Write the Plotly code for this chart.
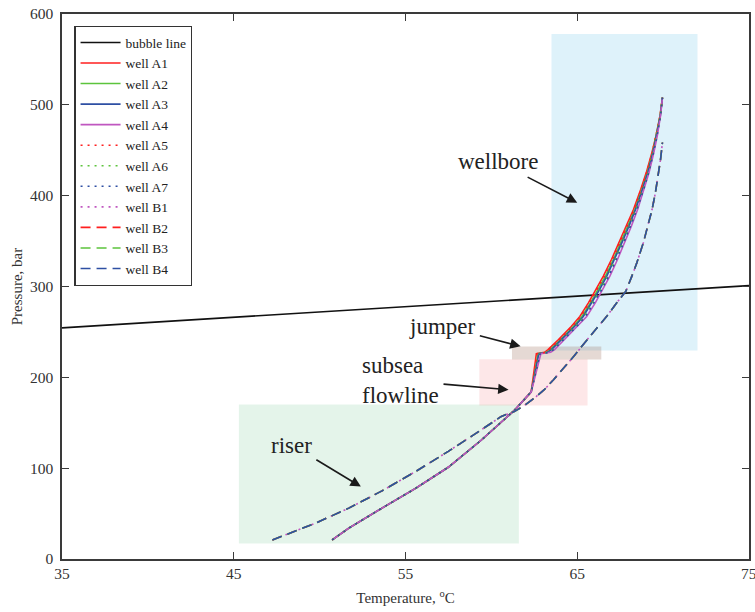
import plotly.graph_objects as go

# Bubble-point line (temperature °C, pressure bar)
bubble_T = [35, 75]
bubble_P = [254.5, 301]

# Wells A1-A7: riser -> subsea flowline -> jumper -> wellbore
P_A = [21, 34, 56, 77.5, 101, 131, 164, 184,
       226, 227.5, 230.5, 241.5, 256, 267, 282, 296.7, 311.4, 330, 350,
       366.5, 385, 407, 425.4, 447.5, 466, 488, 508]
T_A1 = [50.73, 51.70, 53.63, 55.56, 57.49, 59.42, 61.36, 62.32,
        62.62, 63.10, 63.30, 63.91, 64.65, 65.15, 65.65, 66.10, 66.52, 67.00, 67.48,
        67.87, 68.28, 68.70, 69.02, 69.35, 69.59, 69.82, 69.96]
T_A2 = [50.73, 51.70, 53.63, 55.56, 57.49, 59.42, 61.36, 62.32,
        62.72, 63.23, 63.43, 64.04, 64.77, 65.27, 65.77, 66.22, 66.64, 67.11, 67.58,
        67.96, 68.36, 68.77, 69.08, 69.39, 69.61, 69.83, 69.96]
T_A3 = [50.73, 51.70, 53.63, 55.56, 57.49, 59.42, 61.36, 62.32,
        62.76, 63.28, 63.50, 64.10, 64.84, 65.35, 65.85, 66.30, 66.72, 67.18, 67.64,
        68.01, 68.40, 68.80, 69.11, 69.41, 69.62, 69.84, 69.96]
T_A4 = [50.73, 51.70, 53.63, 55.56, 57.49, 59.42, 61.36, 62.32,
        62.88, 63.45, 63.68, 64.26, 65.03, 65.55, 66.05, 66.50, 66.90, 67.35, 67.80,
        68.15, 68.52, 68.90, 69.18, 69.46, 69.66, 69.85, 69.96]
T_A5 = [50.73, 51.70, 53.63, 55.56, 57.49, 59.42, 61.36, 62.32,
        62.66, 63.15, 63.36, 63.97, 64.71, 65.21, 65.71, 66.16, 66.58, 67.05, 67.53,
        67.91, 68.32, 68.73, 69.05, 69.37, 69.60, 69.83, 69.96]
T_A6 = [50.73, 51.70, 53.63, 55.56, 57.49, 59.42, 61.36, 62.32,
        62.80, 63.33, 63.56, 64.15, 64.90, 65.41, 65.91, 66.36, 66.77, 67.23, 67.69,
        68.05, 68.43, 68.83, 69.13, 69.42, 69.63, 69.84, 69.96]
T_A7 = [50.73, 51.70, 53.63, 55.56, 57.49, 59.42, 61.36, 62.32,
        62.84, 63.40, 63.62, 64.21, 64.97, 65.48, 65.98, 66.43, 66.84, 67.29, 67.75,
        68.10, 68.48, 68.87, 69.16, 69.44, 69.65, 69.85, 69.96]

# Wells B1-B4
P_B = [21, 39.5, 56, 75, 96, 118.5, 142.3, 157, 162.5, 169.8, 179, 186.4, 197.4,
       212, 223.1, 241.5, 254.4, 267.3, 282, 294.8, 311.4, 326.1, 348.2, 366.5,
       385, 403.3, 425.4, 440, 458.5]
T_B1 = [47.25, 49.77, 51.70, 53.63, 55.56, 57.49, 59.42, 60.58, 61.36, 61.98, 62.62, 63.08, 63.62,
        64.30, 64.80, 65.58, 66.14, 66.72, 67.30, 67.83, 68.18, 68.47, 68.85, 69.12,
        69.36, 69.55, 69.74, 69.85, 69.96]
T_B2 = [47.25, 49.77, 51.70, 53.63, 55.56, 57.49, 59.42, 60.58, 61.36, 61.98, 62.62, 63.08, 63.62,
        64.30, 64.80, 65.58, 66.14, 66.72, 67.30, 67.83, 68.18, 68.47, 68.85, 69.12,
        69.36, 69.55, 69.74, 69.85, 69.96]
T_B3 = [47.25, 49.77, 51.70, 53.63, 55.56, 57.49, 59.42, 60.58, 61.36, 61.98, 62.62, 63.08, 63.62,
        64.30, 64.80, 65.58, 66.14, 66.72, 67.30, 67.83, 68.18, 68.47, 68.85, 69.12,
        69.36, 69.55, 69.74, 69.85, 69.96]
T_B4 = [47.25, 49.77, 51.70, 53.63, 55.56, 57.49, 59.42, 60.58, 61.36, 61.98, 62.62, 63.08, 63.62,
        64.30, 64.80, 65.58, 66.14, 66.72, 67.30, 67.83, 68.18, 68.47, 68.85, 69.12,
        69.36, 69.55, 69.74, 69.85, 69.96]

x_ticks = [35, 45, 55, 65, 75]
y_ticks = [0, 100, 200, 300, 400, 500, 600]

# Section regions: (name, T0, T1, P0, P1, fill)
regions = [
    ("riser", 45.3, 61.6, 17, 170, "rgba(120,200,150,0.20)"),
    ("subsea", 59.3, 65.6, 169, 220, "rgba(245,120,130,0.18)"),
    ("wellbore", 63.5, 72.0, 229.5, 578, "rgba(80,185,230,0.19)"),
    ("jumper", 61.2, 66.4, 219.5, 234, "rgba(150,105,85,0.25)"),
]

RED, GREEN, BLUE, MAG = "#FF1F1F", "#5CC43C", "#2E4FA3", "#C057C0"
SERIF = "Liberation Serif, Times New Roman, serif"
DASHES = {"solid": "solid", "dot": "2px,5px", "dash": "10px,6px"}

fig = go.Figure()

fig.add_trace(go.Scatter(x=bubble_T, y=bubble_P, mode="lines", name="bubble line",
                         line=dict(color="#111111", width=1.6)))

series = [
    ("well A1", T_A1, P_A, RED, "solid"),
    ("well A2", T_A2, P_A, GREEN, "solid"),
    ("well A3", T_A3, P_A, BLUE, "solid"),
    ("well A4", T_A4, P_A, MAG, "solid"),
    ("well A5", T_A5, P_A, RED, "dot"),
    ("well A6", T_A6, P_A, GREEN, "dot"),
    ("well A7", T_A7, P_A, BLUE, "dot"),
    ("well B1", T_B1, P_B, MAG, "dot"),
    ("well B2", T_B2, P_B, RED, "dash"),
    ("well B3", T_B3, P_B, GREEN, "dash"),
    ("well B4", T_B4, P_B, BLUE, "dash"),
]
for name, t, p, col, dash in series:
    fig.add_trace(go.Scatter(x=t, y=p, mode="lines", name=name,
                             line=dict(color=col, width=1.6, dash=DASHES[dash])))

for _, t0, t1, p0, p1, fill in regions:
    fig.add_shape(type="rect", xref="x", yref="y", x0=t0, x1=t1, y0=p0, y1=p1,
                  fillcolor=fill, line=dict(width=0), layer="below")

# Region labels: text centre (arrow tail) and arrow head
labels = [
    ("wellbore", 60.37, 437.3, 65.0, 392.3, "center"),
    ("jumper", 57.15, 256.3, 61.7, 234.1, "center"),
    ("subsea<br>flowline", 54.71, 196.5, 61.0, 186.4, "left"),
    ("riser", 48.38, 125.5, 52.4, 79.7, "center"),
]
for text, tx, ty, hx, hy, align in labels:
    fig.add_annotation(x=hx, y=hy, ax=tx, ay=ty, xref="x", yref="y", axref="x", ayref="y",
                       text=text, align=align, showarrow=True, arrowhead=2, arrowsize=1.3,
                       arrowwidth=1.6, arrowcolor="#1a1a1a", startstandoff=3,
                       font=dict(family=SERIF, size=23, color="#222222"))

# Last x tick label sits on the page edge
fig.add_annotation(x=75, y=0, xref="x", yref="paper", text="75", showarrow=False,
                   yanchor="top", yshift=-4,
                   font=dict(family=SERIF, size=15.5, color="#333333"))

axis_common = dict(showline=True, linecolor="#3a3a3a", linewidth=1.5, mirror="ticks",
                   ticks="inside", ticklen=7, tickwidth=1.3, tickcolor="#3a3a3a",
                   showgrid=False, zeroline=False,
                   tickfont=dict(family=SERIF, size=15.5, color="#333333"))

fig.update_xaxes(range=[35, 75], tickvals=x_ticks[:-1], ticktext=[str(v) for v in x_ticks[:-1]],
                 title=dict(text="Temperature, <sup>o</sup>C", standoff=11,
                            font=dict(family=SERIF, size=15, color="#333333")),
                 **axis_common)
fig.update_yaxes(range=[0, 600], tickvals=y_ticks, ticktext=[str(v) for v in y_ticks],
                 ticklabelstandoff=4,
                 title=dict(text="Pressure, bar", standoff=4,
                            font=dict(family=SERIF, size=15, color="#333333")),
                 **axis_common)

fig.update_layout(
    width=755, height=612,
    margin=dict(l=62, r=4, t=14, b=53),
    plot_bgcolor="white", paper_bgcolor="white",
    legend=dict(x=0.018, y=0.978, xanchor="left", yanchor="top",
                bgcolor="white", bordercolor="#333333", borderwidth=1.2,
                font=dict(family=SERIF, size=13.5, color="#222222"),
                tracegroupgap=0, itemwidth=40),
    showlegend=True,
)

fig.write_html("out.html")
